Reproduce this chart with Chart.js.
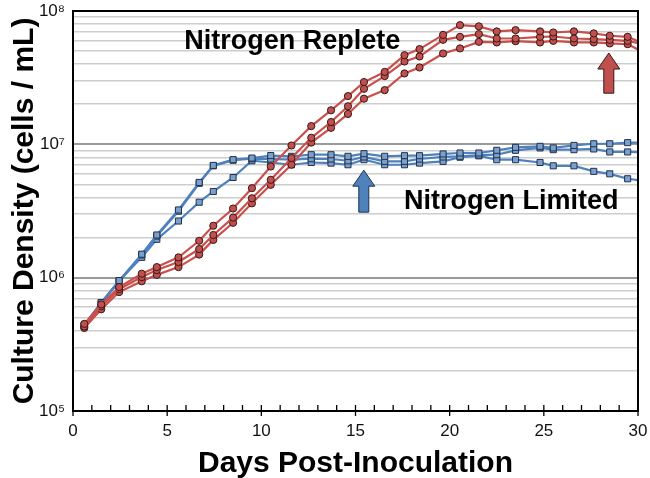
<!DOCTYPE html>
<html>
<head>
<meta charset="utf-8">
<title>Culture density</title>
<script src="https://cdn.jsdelivr.net/npm/chart.js@4.4.1/dist/chart.umd.min.js"></script>
<style>
  html, body { margin: 0; padding: 0; background: #fff; }
  canvas { display: block; }
</style>
</head>
<body>
<canvas id="growthChart" width="650" height="478"></canvas>
<script>
// sampling days (shared by every culture)
const days = [0.6, 1.5, 2.45, 3.65, 4.45, 5.6, 6.7, 7.45, 8.5, 9.5, 10.5, 11.6, 12.65, 13.7, 14.6, 15.45,
  16.55, 17.6, 18.4, 19.65, 20.55, 21.55, 22.5, 23.5, 24.8, 25.5, 26.6, 27.65, 28.5, 29.45, 30.4];

// nitrogen replete cultures (cells / mL)
const repleteA = [4.5e5, 6.3e5, 8.5e5, 1.07e6, 1.20e6, 1.42e6, 1.89e6, 2.45e6, 3.30e6, 4.69e6, 6.82e6, 9.8e6,
  1.37e7, 1.80e7, 2.30e7, 2.93e7, 3.49e7, 4.66e7, 5.18e7, 6.62e7, 7.83e7, 7.67e7, 7.03e7, 7.19e7, 7.03e7,
  6.90e7, 7.03e7, 6.79e7, 6.52e7, 6.40e7, 5.6e7];
const repleteB = [4.3e5, 6.1e5, 8.2e5, 1.01e6, 1.14e6, 1.31e6, 1.64e6, 2.09e6, 2.82e6, 3.94e6, 5.42e6, 7.89e6,
  1.12e7, 1.47e7, 1.93e7, 2.61e7, 3.25e7, 4.18e7, 4.56e7, 6.08e7, 6.40e7, 6.71e7, 6.22e7, 6.22e7, 6.40e7,
  6.44e7, 6.22e7, 6.15e7, 6.08e7, 5.97e7, 5.6e7];
const repleteC = [4.2e5, 5.8e5, 7.8e5, 9.4e5, 1.05e6, 1.20e6, 1.49e6, 1.92e6, 2.58e6, 3.61e6, 4.97e6, 7.03e6,
  1.03e7, 1.33e7, 1.69e7, 2.20e7, 2.55e7, 3.40e7, 3.77e7, 4.80e7, 5.24e7, 5.87e7, 5.81e7, 5.94e7, 5.81e7,
  5.97e7, 5.81e7, 5.81e7, 5.71e7, 5.64e7, 4.8e7];

// nitrogen limited cultures (cells / mL)
const limitedA = [4.4e5, 6.5e5, 9.5e5, 1.50e6, 2.09e6, 3.22e6, 5.18e6, 6.95e6, 7.67e6, 7.89e6, 8.24e6, 8.13e6,
  8.36e6, 8.36e6, 8.13e6, 8.51e6, 8.13e6, 8.22e6, 8.22e6, 8.47e6, 8.61e6, 8.61e6, 9.02e6, 9.49e6, 9.66e6,
  9.40e6, 9.82e6, 1.01e7, 1.01e7, 1.03e7, 1.03e7];
const limitedB = [4.3e5, 6.4e5, 9.4e5, 1.48e6, 2.05e6, 3.15e6, 5.1e6, 6.9e6, 7.6e6, 7.8e6, 7.76e6, 7.67e6,
  7.80e6, 7.76e6, 7.53e6, 8.04e6, 7.45e6, 7.45e6, 7.76e6, 8.04e6, 8.13e6, 8.3e6, 8.36e6, 9.02e6, 9.40e6,
  9.12e6, 9.12e6, 9.23e6, 8.77e6, 8.77e6, 8.7e6];
const limitedC = [4.4e5, 6.5e5, 9.5e5, 1.42e6, 1.94e6, 2.66e6, 3.68e6, 4.43e6, 5.64e6, 7.53e6, 7.31e6, 7.03e6,
  7.31e6, 7.23e6, 7.03e6, 7.67e6, 7.03e6, 7.03e6, 7.23e6, 7.45e6, 8.0e6, 8.2e6, 7.67e6, 7.67e6, 7.31e6,
  6.90e6, 6.90e6, 6.27e6, 6.01e6, 5.52e6, 5.3e6];

// axis ticks
const decades = [1e5, 1e6, 1e7, 1e8];
const decadeLabels = ['10⁵', '10⁶', '10⁷', '10⁸'];

// text labels and arrows, anchored in data units
const notes = [
  { text: 'Nitrogen Replete', day: 11.64, value: 5.16e7 },
  { text: 'Nitrogen Limited', day: 23.27, value: 3.3e6 }
];
const arrows = [
  { day: 28.45, from: 2.42e7, to: 4.84e7, kind: 'replete' },
  { day: 15.44, from: 3.1e6, to: 6.4e6, kind: 'limited' }
];

const FONT = "'Liberation Sans', Arial, Helvetica, sans-serif";
const RED = '#c9504c', RED_DARK = '#3a1514';
const BLUE = '#4f81bd', BLUE_DARK = '#1d3350';

function toPoints(values) {
  return values.map((v, i) => ({ x: days[i], y: v }));
}

function repleteSet(values) {
  return {
    data: toPoints(values),
    borderColor: RED,
    borderWidth: 2.2,
    pointStyle: 'circle',
    pointRadius: 3.6,
    pointBackgroundColor: '#c0504d',
    pointBorderColor: RED_DARK,
    pointBorderWidth: 1,
    tension: 0
  };
}

function limitedSet(values) {
  return {
    data: toPoints(values),
    borderColor: BLUE,
    borderWidth: 2.2,
    pointStyle: 'rect',
    pointRadius: 4.3,
    pointBackgroundColor: '#7d9fcb',
    pointBorderColor: BLUE_DARK,
    pointBorderWidth: 1,
    tension: 0
  };
}

// minor ticks on the day axis, the black frame, notes and arrows
const decorations = {
  id: 'decorations',
  afterDatasetsDraw(chart) {
    const { ctx, scales: { x, y } } = chart;
    ctx.save();
    arrows.forEach(a => {
      const px = x.getPixelForValue(a.day);
      const yb = y.getPixelForValue(a.from);
      const yt = y.getPixelForValue(a.to);
      const shaft = 5, head = 11, headH = 16;
      ctx.beginPath();
      ctx.moveTo(px - shaft, yb);
      ctx.lineTo(px - shaft, yt + headH);
      ctx.lineTo(px - head, yt + headH);
      ctx.lineTo(px, yt);
      ctx.lineTo(px + head, yt + headH);
      ctx.lineTo(px + shaft, yt + headH);
      ctx.lineTo(px + shaft, yb);
      ctx.closePath();
      ctx.fillStyle = a.kind === 'replete' ? '#c0504d' : BLUE;
      ctx.fill();
      ctx.lineWidth = 1;
      ctx.strokeStyle = a.kind === 'replete' ? RED_DARK : BLUE_DARK;
      ctx.stroke();
    });
    ctx.fillStyle = '#000';
    ctx.font = 'bold 27px ' + FONT;
    ctx.textAlign = 'center';
    ctx.textBaseline = 'alphabetic';
    notes.forEach(n => {
      ctx.fillText(n.text, x.getPixelForValue(n.day), y.getPixelForValue(n.value));
    });
    ctx.restore();
  },
  afterDraw(chart) {
    const { ctx, chartArea: a, scales: { x } } = chart;
    ctx.save();
    ctx.strokeStyle = '#000';
    ctx.lineWidth = 1.3;
    for (let d = x.min; d <= x.max; d++) {
      const px = x.getPixelForValue(d);
      const major = d % 5 === 0;
      ctx.beginPath();
      ctx.moveTo(px, a.bottom - 6);
      ctx.lineTo(px, a.bottom + (major ? 5 : 0));
      ctx.stroke();
    }
    ctx.lineWidth = 2;
    ctx.strokeRect(a.left, a.top, a.right - a.left, a.bottom - a.top);
    ctx.restore();
  }
};

new Chart(document.getElementById('growthChart'), {
  type: 'line',
  data: {
    datasets: [
      repleteSet(repleteA), repleteSet(repleteB), repleteSet(repleteC),
      limitedSet(limitedA), limitedSet(limitedB), limitedSet(limitedC)
    ]
  },
  options: {
    responsive: false,
    animation: false,
    layout: { padding: { top: 11, right: 12, left: 0, bottom: 0 } },
    plugins: { legend: { display: false }, tooltip: { enabled: false } },
    scales: {
      x: {
        type: 'linear',
        min: 0,
        max: 30,
        afterFit: s => { s.height = 67; s.paddingLeft = 0; s.paddingRight = 0; },
        grid: { drawOnChartArea: false, drawTicks: false },
        border: { display: false },
        ticks: { stepSize: 5, padding: 10, color: '#111', font: { family: FONT, size: 17 } },
        title: {
          display: true,
          text: 'Days Post-Inoculation',
          color: '#000',
          padding: { top: 0, bottom: -4 },
          font: { family: FONT, size: 30, weight: 'bold' }
        }
      },
      y: {
        type: 'logarithmic',
        min: 1e5,
        max: 1e8,
        afterFit: s => { s.width = 73; s.paddingTop = 0; s.paddingBottom = 0; },
        afterBuildTicks: s => {
          const vals = [];
          decades.forEach((d, i) => {
            if (i === decades.length - 1) { vals.push(d); return; }
            for (let m = 1; m <= 9; m++) vals.push(d * m);
          });
          s.ticks = vals.map(v => ({ value: v }));
        },
        grid: {
          drawTicks: false,
          color: c => decades.includes(c.tick.value) ? '#9a9a9a' : '#cdcdcd',
          lineWidth: c => decades.includes(c.tick.value) ? 2 : 1.5
        },
        border: { display: false },
        ticks: {
          autoSkip: false,
          padding: 8,
          color: '#111',
          font: { family: FONT, size: 17 },
          callback: v => {
            const i = decades.indexOf(v);
            return i >= 0 ? decadeLabels[i] : '';
          }
        },
        title: {
          display: true,
          text: 'Culture Density (cells / mL)',
          color: '#000',
          padding: { top: 7, bottom: 0 },
          font: { family: FONT, size: 30, weight: 'bold' }
        }
      }
    }
  },
  plugins: [decorations]
});
</script>
</body>
</html>
